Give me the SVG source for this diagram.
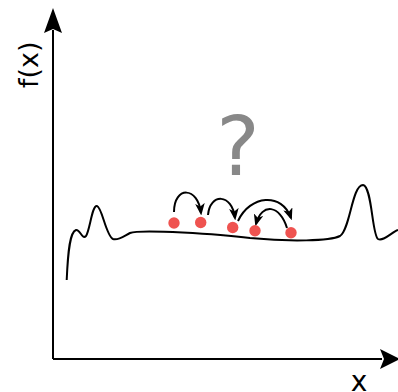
<svg xmlns="http://www.w3.org/2000/svg" width="398" height="392" viewBox="0 0 398 392">
<style>
.ax{stroke:#000;stroke-width:2;fill:none}
.cv{stroke:#000;stroke-width:2;fill:none}
.hop{stroke:#000;stroke-width:2;fill:none;marker-end:url(#ah)}
.pt{fill:#ef5350}
.lbl{font-family:"DejaVu Sans",sans-serif;fill:#000}
</style>
<defs>
<marker id="ah" viewBox="0 0 10 8" refX="8" refY="4" markerWidth="6" markerHeight="4.8" markerUnits="strokeWidth" orient="auto">
<path d="M0,0 L10,4 L0,8 L2.5,4 z" fill="#000"/>
</marker>
</defs>
<g id="axes">
<path class="ax" d="M53,359 V30"/>
<path d="M53,8 L44,33 L53,29 L62,33 z" fill="#000"/>
<path class="ax" d="M53,359 H382"/>
<path d="M400,359 L380,349 L384,359 L380,369 z" fill="#000"/>
</g>
<g id="label-fx"><text class="lbl" font-size="27" transform="translate(38,88) rotate(-90)">f(x)</text></g>
<g id="label-x"><text class="lbl" font-size="28" x="359" y="391" text-anchor="middle">x</text></g>
<g id="question"><text font-family="DejaVu Sans,sans-serif" font-size="82" fill="#888" x="238" y="175" text-anchor="middle">?</text></g>
<g id="curve"><path class="cv" d="M66.7,280 C68,250 70,232 76,230 C80,229 82,240 86,236 C90,230 92,205 97,206 C102,207 106,236 113,239 C118,241 124,236 130,233 C140,229 220,234 250,238 C290,242 330,241 340,236 C350,230 352,185 363,185 C372,186 372,235 378,239 C383,242 392,232 398,230"/></g>
<g id="connectors">
<path class="hop" d="M174,212 C174,186 198,186 201,213"/>
<path class="hop" d="M208,215 C210,193 232,193 235,218"/>
<path class="hop" d="M238,221 C250,195 282,192 291,218"/>
<path class="hop" d="M287,228 C280,205 262,202 256,224"/>
</g>
<g id="points">
<circle class="pt" cx="174" cy="223" r="5.7"/>
<circle class="pt" cx="200.7" cy="222.5" r="5.7"/>
<circle class="pt" cx="232.7" cy="227.5" r="5.7"/>
<circle class="pt" cx="255" cy="230.7" r="5.7"/>
<circle class="pt" cx="291" cy="232.7" r="5.7"/>
</g>
</svg>
